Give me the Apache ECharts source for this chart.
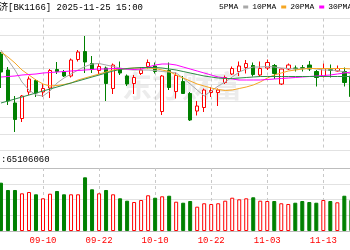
<!DOCTYPE html>
<html><head><meta charset="utf-8">
<script src="https://cdn.jsdelivr.net/npm/echarts@6/dist/echarts.min.js"></script>
<style>html,body{margin:0;padding:0;background:#fff}#c{width:350px;height:250px}</style>
</head><body><div id="c"></div>
<script>
const dates = ['09-02','09-03','09-04','09-05','09-08','09-09','09-10','09-11','09-12','09-15','09-16','09-17','09-18','09-19','09-22','09-23','09-24','09-25','09-26','09-29','09-30','10-09','10-10','10-13','10-14','10-15','10-16','10-17','10-20','10-21','10-22','10-23','10-24','10-27','10-28','10-29','10-30','10-31','11-03','11-04','11-05','11-06','11-07','11-10','11-11','11-12','11-13','11-14','11-17','11-18','11-19'];
const tickLabels = ['09-10','09-22','10-10','10-22','11-03','11-13'];
const opens = [2615,2455,2125,1970,2235,2350,2235,2275,2460,2435,2395,2560,2640,2520,2450,2475,2270,2470,2395,2320,2420,2490,2495,2040,2450,2240,2340,2220,2045,2080,2230,2230,2330,2415,2440,2480,2500,2405,2475,2500,2315,2465,2475,2478,2505,2440,2390,2458,2445,2440,2395];
const closes = [2435,2145,1960,2195,2365,2225,2270,2450,2440,2395,2555,2635,2535,2460,2490,2320,2505,2425,2315,2380,2455,2530,2440,2395,2280,2400,2220,1955,2095,2255,2250,2255,2380,2470,2495,2520,2410,2470,2530,2420,2465,2505,2468,2472,2465,2380,2470,2452,2470,2330,2190];
const lows = [2275,2105,1835,1935,2205,2185,2185,2175,2415,2385,2380,2540,2425,2425,2415,2145,2215,2405,2295,2215,2405,2470,2420,2005,2255,2170,2215,1945,2000,2035,2185,2095,2315,2405,2395,2420,2390,2390,2455,2365,2305,2455,2440,2440,2445,2290,2380,2380,2440,2290,2175];
const highs = [2635,2485,2195,2205,2390,2365,2315,2465,2535,2455,2570,2655,2795,2595,2520,2490,2520,2540,2410,2405,2485,2560,2530,2405,2530,2430,2395,2235,2145,2270,2285,2270,2400,2490,2540,2555,2530,2540,2560,2515,2470,2520,2500,2505,2545,2455,2520,2510,2500,2480,2415];
const volumes = [7670,6510,6510,5980,6190,5825,5190,5920,6350,5825,5825,5825,8520,6620,5980,6510,5825,5190,4810,4600,4920,5670,5285,5510,5600,4650,4490,4760,3860,4400,4290,4400,4810,5285,5030,5190,5350,4810,4760,4760,4400,4290,4490,4760,4600,4490,4920,4760,4555,5600,4920];
const ma5 = [2655,2555,2455,2335,2255,2205,2195,2245,2325,2375,2415,2455,2490,2515,2520,2505,2490,2475,2460,2455,2455,2455,2450,2440,2435,2425,2375,2315,2255,2195,2245,2295,2335,2385,2435,2465,2485,2485,2490,2485,2475,2470,2465,2465,2475,2465,2455,2455,2450,2435,2415];
const ma10 = [2635,2585,2525,2455,2405,2355,2315,2295,2300,2310,2325,2355,2375,2395,2415,2435,2455,2465,2470,2475,2475,2475,2470,2455,2440,2405,2375,2345,2315,2295,2275,2260,2250,2255,2270,2285,2305,2335,2375,2405,2425,2445,2455,2465,2470,2470,2470,2470,2470,2470,2465];
const ma20 = [2385,2390,2395,2405,2410,2415,2425,2430,2435,2440,2445,2450,2455,2460,2465,2465,2470,2470,2465,2460,2465,2485,2505,2515,2515,2505,2485,2465,2445,2425,2405,2385,2375,2365,2355,2355,2355,2355,2360,2365,2370,2375,2380,2385,2390,2395,2400,2405,2415,2425,2435];
const ma30 = [2125,2145,2165,2185,2205,2225,2245,2265,2285,2305,2325,2345,2365,2385,2405,2425,2445,2460,2470,2475,2480,2480,2480,2475,2465,2455,2440,2425,2410,2395,2385,2375,2370,2370,2375,2380,2385,2390,2390,2390,2390,2390,2390,2390,2390,2390,2390,2390,2390,2390,2390];
const maNames = ['5PMA','10PMA','20PMA','30PMA'];
const maColors = ['#a8a8a8','#f5a623','#ff00ff','#2e8b47'];

const UP = '#ff0000', DOWN = '#008000';
const FONT = '"Liberation Mono","Noto Sans CJK SC",monospace';
const isTick = (i, v) => tickLabels.indexOf(v) >= 0;

const candle = dates.map((d, i) => [opens[i], closes[i], lows[i], highs[i]]);
const volData = volumes.map((v, i) => ({
  value: v,
  itemStyle: closes[i] >= opens[i]
    ? {color: '#ffffff', borderColor: UP, borderWidth: 1}
    : {color: DOWN, borderColor: DOWN, borderWidth: 1}
}));

const vSplit = {show: true, interval: isTick, alignWithLabel: true, lineStyle: {color: '#c8c8c8', type: [3, 3], width: 1}};
const gridBase = {left: -2.55, width: 357.4, outerBoundsMode: 'none', containLabel: false};

const chart = echarts.init(document.getElementById('c'), null, {renderer: 'canvas', width: 350, height: 250});
chart.setOption({
  animation: false,
  backgroundColor: '#ffffff',
  legend: {
    left: 219, top: 3, width: 400, padding: 0, align: 'right', icon: 'rect',
    itemWidth: 5, itemHeight: 3, itemGap: 4,
    textStyle: {fontSize: 8, fontFamily: FONT, color: '#000'},
    data: maNames
  },
  graphic: [
    {type: 'text', x: 122, y: 86, z: -10, silent: true, style: {text: '东方财富', font: 'bold 30px "Noto Sans CJK SC"', fill: '#ececec', textVerticalAlign: 'middle'}},
    {type: 'text', x: -1, y: 8, style: {text: '济[BK1166] 2025-11-25 15:00', font: '9px ' + FONT, fill: '#000', textVerticalAlign: 'middle'}},
    {type: 'text', x: 1, y: 160, style: {text: ':65106060', font: '9px ' + FONT, fill: '#000', textVerticalAlign: 'middle'}}
  ],
  grid: [
    Object.assign({top: 18.5, height: 132}, gridBase),
    Object.assign({top: 168, height: 63}, gridBase)
  ],
  xAxis: [
    {type: 'category', gridIndex: 0, data: dates, boundaryGap: true,
     axisLine: {show: false}, axisTick: {show: false}, axisLabel: {show: false}, splitLine: vSplit},
    {type: 'category', gridIndex: 1, data: dates, boundaryGap: true,
     axisLine: {show: true, lineStyle: {color: '#bbbbbb'}}, axisTick: {show: false},
     axisLabel: {interval: isTick, color: UP, fontSize: 9, fontFamily: FONT, margin: 5},
     splitLine: vSplit}
  ],
  yAxis: [
    {type: 'value', gridIndex: 0, min: 1650, max: 2970, interval: 165,
     axisLine: {show: false}, axisTick: {show: false}, axisLabel: {show: false},
     splitLine: {show: true, lineStyle: {color: '#e2e2e2', width: 1}}},
    {type: 'value', gridIndex: 1, min: 0, max: 10000, interval: 2500,
     axisLine: {show: false}, axisTick: {show: false}, axisLabel: {show: false},
     splitLine: {show: true, lineStyle: {color: ['#e2e2e2', '#e2e2e2', '#e2e2e2', '#e2e2e2', '#bdbdbd'], width: 1}}}
  ],
  series: [
    {type: 'candlestick', name: 'K', xAxisIndex: 0, yAxisIndex: 0, data: candle, barWidth: 4,
     itemStyle: {color: '#ffffff', color0: DOWN, borderColor: UP, borderColor0: DOWN, borderWidth: 1}},
    ...[ma5, ma10, ma20, ma30].map((arr, k) => ({
      type: 'line', name: maNames[k], xAxisIndex: 0, yAxisIndex: 0, data: arr,
      symbol: 'none', showSymbol: false, smooth: false,
      lineStyle: {width: 1, color: maColors[k]}, itemStyle: {color: maColors[k]}
    })),
    {type: 'bar', name: 'VOL', xAxisIndex: 1, yAxisIndex: 1, data: volData, barWidth: 4}
  ]
});
</script></body></html>
